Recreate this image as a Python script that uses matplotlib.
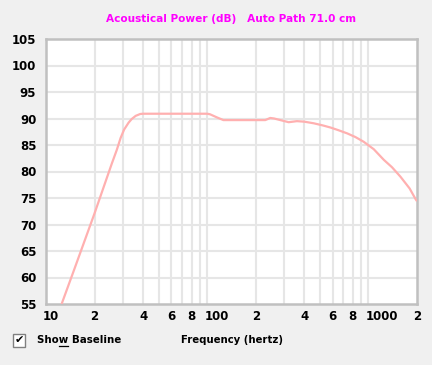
import matplotlib
matplotlib.use("Agg")
import matplotlib.pyplot as plt
import matplotlib.transforms as mtransforms
from matplotlib.lines import Line2D
from matplotlib.patches import Rectangle
from matplotlib.ticker import NullLocator

# Acoustical power curve
freq = [12.5, 15, 20, 25.6, 27.5, 29.0, 30.5, 32.5, 34, 36, 38.4, 40, 60, 100, 104, 115, 126,
        180, 229, 246, 260, 284, 320, 360, 400, 457, 520, 581, 650, 737, 830,
        935, 1079, 1245, 1400, 1581, 1800, 1959, 2000]
power = [55.0, 61.6, 72.1, 81.5, 84.1, 86.3, 87.9, 89.2, 89.9, 90.5, 90.85, 90.9, 90.9, 90.9, 90.8, 90.2, 89.7,
         89.7, 89.7, 90.1, 90.0, 89.7, 89.3, 89.5, 89.4, 89.1, 88.7, 88.3, 87.8, 87.2, 86.5,
         85.6, 84.2, 82.2, 80.8, 79.0, 76.8, 74.8, 74.4]

grid_freqs = [20, 30, 40, 50, 60, 70, 80, 90, 100, 200, 300, 400, 500, 600, 700, 800, 900, 1000]
label_freqs = [10, 20, 40, 60, 80, 100, 200, 400, 600, 800, 1000, 2000]
label_text = ["10", "2", "4", "6", "8", "100", "2", "4", "6", "8", "1000", "2"]
y_ticks = [55, 60, 65, 70, 75, 80, 85, 90, 95, 100, 105]

bg = "#f0f0f0"
fig = plt.figure(figsize=(4.32, 3.65), dpi=100, facecolor=bg)
ax = fig.add_axes([46 / 432, 61 / 365, 371 / 432, 265 / 365])
ax.set_facecolor("white")

ax.set_xscale("log")
ax.set_xlim(10, 2000)
ax.set_ylim(55, 105)

# grid lines
for f in grid_freqs:
    ax.axvline(f, color="#e6e6e6", lw=1.5, zorder=1)
for y in y_ticks[1:-1]:
    ax.axhline(y, color="#e6e6e6", lw=1.5, zorder=1)

ax.plot(freq, power, color="#ffb0b0", lw=1.6, zorder=3, solid_capstyle="butt")

# x labels drawn by hand: multi-digit ones start just left of their grid line
ax.xaxis.set_major_locator(NullLocator())
ax.xaxis.set_minor_locator(NullLocator())
xtrans = mtransforms.blended_transform_factory(ax.transData, ax.transAxes)
for f, t in zip(label_freqs, label_text):
    if len(t) > 1:
        tr = xtrans + mtransforms.ScaledTranslation(-3 / 100, -13 / 100, fig.dpi_scale_trans)
        ha = "left"
    else:
        tr = xtrans + mtransforms.ScaledTranslation(0, -13 / 100, fig.dpi_scale_trans)
        ha = "center"
    ax.text(f, 0, t, transform=tr, ha=ha, va="center", fontsize=8.5,
            fontweight="bold", color="black")

ax.set_yticks(y_ticks)
ax.tick_params(axis="both", length=0, labelsize=8.5, colors="#000000")
ax.tick_params(axis="y", pad=7)
for lab in ax.get_yticklabels():
    lab.set_fontweight("bold")

for s in ax.spines.values():
    s.set_color("#c0c0c0")
    s.set_linewidth(1.8)

fig.text(231 / 432, 1 - 19 / 365, "Acoustical Power (dB)   Auto Path 71.0 cm",
         color="#ff00ff", fontsize=7.6, fontweight="bold", ha="center", va="center")
fig.text(232 / 432, 1 - 340 / 365, "Frequency (hertz)", color="black",
         fontsize=7.3, fontweight="bold", ha="center", va="center")
show = fig.text(37 / 432, 1 - 340 / 365, "Show Baseline", color="black",
                fontsize=7.4, fontweight="bold", ha="left", va="center")

renderer = fig.canvas.get_renderer()
probe = fig.text(37 / 432, 1 - 340 / 365, "Sho", fontsize=7.4, fontweight="bold",
                 ha="left", va="center")
probe_w = fig.text(37 / 432, 1 - 340 / 365, "Show", fontsize=7.4, fontweight="bold",
                   ha="left", va="center")
x0 = probe.get_window_extent(renderer).x1 / fig.bbox.width
x1 = probe_w.get_window_extent(renderer).x1 / fig.bbox.width
probe.remove()
probe_w.remove()
fig.add_artist(Line2D([x0, x1], [1 - 346 / 365, 1 - 346 / 365], color="black", lw=0.9))

# checkbox
fig.add_artist(Rectangle((13 / 432, 1 - 347 / 365), 12 / 432, 13 / 365,
                         facecolor="white", edgecolor="#808080", lw=1))
fig.text(19 / 432, 1 - 340.5 / 365, "\u2714", color="black", fontsize=8,
         ha="center", va="center")

fig.savefig("out.png", dpi=100, facecolor=bg)
